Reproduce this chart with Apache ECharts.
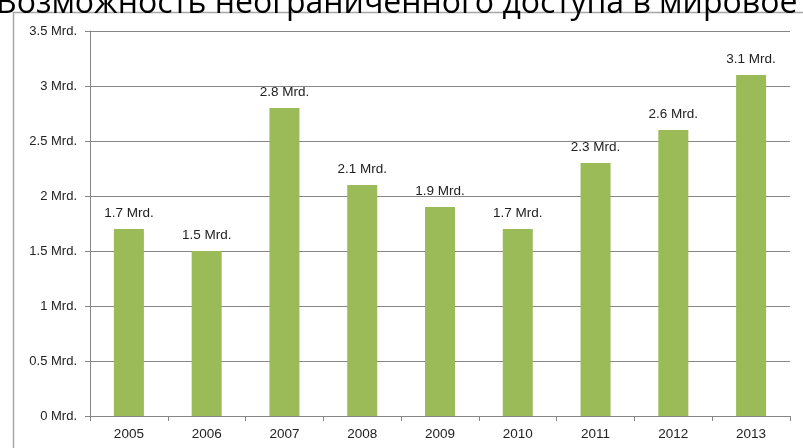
<!DOCTYPE html>
<html><head><meta charset="utf-8">
<script src="https://cdn.jsdelivr.net/npm/echarts@6/dist/echarts.min.js"></script>
<style>html,body{margin:0;padding:0;background:#fff}#c{width:803px;height:448px}</style>
</head><body><div id="c"></div>
<script>
const years = ['2005','2006','2007','2008','2009','2010','2011','2012','2013'];
const values = [1.7, 1.5, 2.8, 2.1, 1.9, 1.7, 2.3, 2.6, 3.1];
const titleText = 'Возможность неограниченного доступа в мировое информационное пространство';
const fmt = v => v + ' Mrd.';
const font = 'Liberation Sans, Arial, sans-serif';
const chart = echarts.init(document.getElementById('c'));
chart.setOption({
  animation: false,
  backgroundColor: '#fff',
  graphic: [
    {type: 'rect', shape: {x: 13.5, y: 12.5, width: 800, height: 450}, style: {fill: 'none', stroke: '#a6a6a6', lineWidth: 1.5}, z: -1},
    {type: 'text', left: -4, top: -12, style: {text: titleText, font: '32px "Open Sans", "DejaVu Sans", sans-serif', fill: '#000'}}
  ],
  grid: {left: 90, right: 13, top: 31, bottom: 32},
  xAxis: {
    type: 'category', data: years,
    axisLine: {lineStyle: {color: '#868686', width: 1}},
    axisTick: {show: true, alignWithLabel: false, length: 5, lineStyle: {color: '#868686'}},
    axisLabel: {color: '#222', fontSize: 13.5, fontFamily: font, margin: 11}
  },
  yAxis: {
    type: 'value', min: 0, max: 3.5, interval: 0.5,
    axisLine: {show: true, lineStyle: {color: '#868686', width: 1}},
    axisTick: {show: true, length: 5, lineStyle: {color: '#868686'}},
    axisLabel: {formatter: fmt, color: '#222', fontSize: 13, fontFamily: font, margin: 13},
    splitLine: {lineStyle: {color: '#868686', width: 1}}
  },
  series: [{
    type: 'bar', data: values, barWidth: 30,
    itemStyle: {color: '#9bbb59'},
    label: {show: true, position: 'top', distance: 9, formatter: p => fmt(p.value), color: '#222', fontSize: 13.5, fontFamily: font}
  }]
});
</script></body></html>
